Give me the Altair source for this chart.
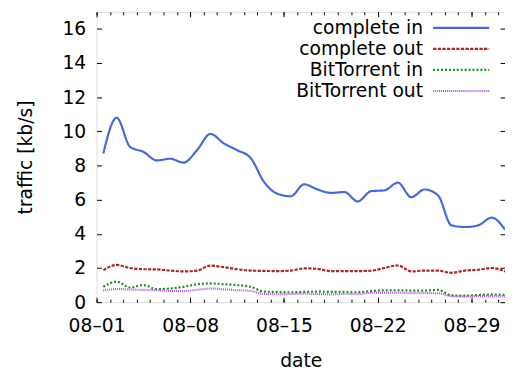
import altair as alt
import pandas as pd

series_names = ["complete in", "complete out", "BitTorrent in", "BitTorrent out"]
days = [f"2009-08-{d:02d}T12:00:00" for d in range(1, 32)]

complete_in = [8.7, 10.8, 9.1, 8.8, 8.3, 8.4, 8.17, 8.9, 9.85, 9.3, 8.9, 8.45, 7.05, 6.35, 6.2, 6.9,
               6.6, 6.4, 6.45, 5.9, 6.5, 6.55, 7.0, 6.15, 6.6, 6.25, 4.5, 4.4, 4.5, 4.95, 4.25]
complete_out = [1.88, 2.18, 2.0, 1.93, 1.92, 1.85, 1.8, 1.85, 2.14, 2.05, 1.93, 1.85, 1.83, 1.82, 1.85, 1.98,
                1.95, 1.82, 1.82, 1.82, 1.84, 2.0, 2.15, 1.8, 1.85, 1.85, 1.72, 1.85, 1.9, 2.0, 1.8]
bt_in = [0.9, 1.2, 0.86, 1.0, 0.76, 0.8, 0.9, 1.05, 1.1, 1.05, 1.0, 0.9, 0.62, 0.6, 0.58, 0.6,
         0.62, 0.6, 0.6, 0.58, 0.65, 0.7, 0.7, 0.68, 0.68, 0.72, 0.4, 0.38, 0.42, 0.45, 0.42]
bt_out = [0.68, 0.77, 0.74, 0.72, 0.7, 0.66, 0.65, 0.72, 0.8, 0.75, 0.7, 0.66, 0.48, 0.47, 0.48, 0.5,
          0.48, 0.46, 0.48, 0.47, 0.55, 0.56, 0.56, 0.53, 0.53, 0.52, 0.35, 0.33, 0.35, 0.35, 0.33]

colors = ["#4169e1", "#b22222", "#1a8f1a", "#b84fe8"]
dashes = [[1, 0], [3.3, 1.4], [2, 2], [1, 1]]

rows = []
for name, vals in zip(series_names, [complete_in, complete_out, bt_in, bt_out]):
    for d, v in zip(days, vals):
        rows.append({"date": d, "value": v, "series": name})
df = pd.DataFrame(rows)

FONT = "DejaVu Sans"
FS = 19
major_days = [1, 8, 15, 22, 29]
minor_days = list(range(1, 32))
major_vals = [alt.DateTime(year=2009, month=8, date=d) for d in major_days]
minor_vals = [alt.DateTime(year=2009, month=8, date=d) for d in minor_days]
y_major = [0, 2, 4, 6, 8, 10, 12, 14, 16]

xscale = alt.Scale(domain=[alt.DateTime(year=2009, month=8, date=1),
                           alt.DateTime(year=2009, month=8, date=31, hours=12)])
yscale = alt.Scale(domain=[0, 17], nice=False)

tick_common = dict(domain=False, grid=False, tickColor="black", tickWidth=1)

lines = alt.Chart(df).mark_line(interpolate="monotone", strokeWidth=2.2, clip=True).encode(
    x=alt.X("date:T", scale=xscale,
            axis=alt.Axis(values=major_vals, orient="bottom", title="date",
                          labelExpr="replace(timeFormat(datum.value, '%m-%d'), '-', '–')",
                          tickSize={"expr": "-5"}, labelPadding=20, titlePadding=16,
                          labelFont=FONT, labelFontSize=FS, titleFont=FONT, titleFontSize=FS,
                          titleFontWeight="normal", labelColor="black", titleColor="black",
                          labelFlush=False, **tick_common)),
    y=alt.Y("value:Q", scale=yscale,
            axis=alt.Axis(values=y_major, orient="left", title="traffic [kb/s]",
                          tickSize={"expr": "-5"}, labelPadding=16, titlePadding=27,
                          labelFont=FONT, labelFontSize=FS, titleFont=FONT, titleFontSize=FS,
                          titleFontWeight="normal", labelColor="black", titleColor="black",
                          **tick_common)),
    color=alt.Color("series:N", scale=alt.Scale(domain=series_names, range=colors),
                    legend=alt.Legend(orient="none", legendX=340, legendY=6.7, title=None,
                                      labelAlign="right", labelOffset={"expr": "-48.3"}, labelFont=FONT,
                                      labelFontSize=FS, labelColor="black", labelLimit=0,
                                      symbolType="M-4,0H4", symbolSize=203, symbolStrokeWidth=2.2,
                                      symbolOffset=21, rowPadding=1.4, padding=0)),
    strokeDash=alt.StrokeDash("series:N", scale=alt.Scale(domain=series_names, range=dashes)),
)

def tick_layer(x_orient, x_vals, x_size, y_axis):
    return alt.Chart(df).mark_line(opacity=0).encode(
        x=alt.X("date:T", scale=xscale,
                axis=alt.Axis(values=x_vals, orient=x_orient, title=None, labels=False,
                              tickSize={"expr": str(-x_size)}, **tick_common)),
        y=alt.Y("value:Q", scale=yscale, axis=y_axis),
        detail="series:N",
    )

layer_b = tick_layer("bottom", minor_vals, 3,
                     alt.Axis(values=y_major, orient="right", title=None, labels=False,
                              tickSize={"expr": "-5"}, **tick_common))
layer_c = tick_layer("top", major_vals, 5, None)
layer_d = tick_layer("top", minor_vals, 3, None)

chart = alt.layer(lines, layer_b, layer_c, layer_d).resolve_axis(
    x="independent", y="independent"
).properties(
    width=415, height=295,
    autosize=alt.AutoSizeParams(type="none"),
    padding={"left": 90, "top": 1, "right": 0, "bottom": 66},
).configure_view(stroke="black", strokeWidth=1.2).configure(background="white")

chart.save("out.html", embed_options={"renderer": "svg", "actions": False})
